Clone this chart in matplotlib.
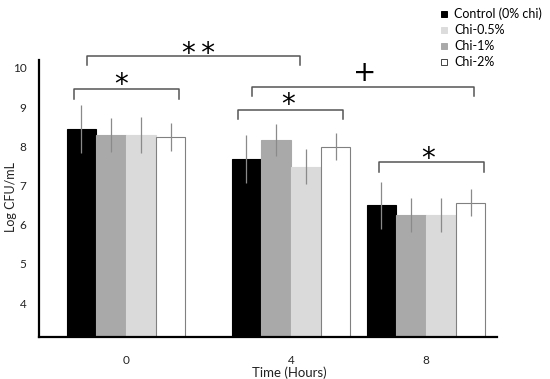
import matplotlib
matplotlib.use('Agg')
import matplotlib.pyplot as plt
from matplotlib.lines import Line2D
import numpy as np

plt.rcParams['font.family'] = ['Lato', 'DejaVu Sans']

# data
times = ['0', '4', '8']
series = ['Control (0% chi)', 'Chi-0.5%', 'Chi-1%', 'Chi-2%']
# bar values in drawn order (black, dark gray, light gray, white)
vals = [
    [8.44, 7.68, 6.49],
    [8.29, 8.16, 6.25],
    [8.29, 7.48, 6.25],
    [8.23, 7.99, 6.56],
]
errs = [
    [0.62, 0.62, 0.60],
    [0.43, 0.42, 0.43],
    [0.45, 0.44, 0.44],
    [0.36, 0.35, 0.35],
]
# significance brackets: (x0, x1, top, leg, label, text_x, text_y)
brackets = [
    (-0.347, 0.353, 9.46, 9.21, '*', -0.03, 9.74),
    (-0.258, 1.160, 10.31, 10.08, '*\u2009*', 0.48, 10.54),
    (0.747, 1.447, 8.93, 8.70, '*', 1.08, 9.23),
    (0.838, 2.320, 9.52, 9.29, '+', 1.593, 9.87),
    (1.687, 2.387, 7.61, 7.35, '*', 2.013, 7.85),
]

# layout
group_pos = np.array([0, 1.1, 2.0])
bar_w = 0.198
bar_colors = ['black', '#a9a9a9', '#dadada', 'white']
edge_colors = ['black', '#a9a9a9', '#dadada', '#808080']
legend_colors = ['black', '#dcdcdc', '#a9a9a9', 'white']

fig = plt.figure(figsize=(5.5, 3.79), dpi=100)
ax = fig.add_axes([0.0709, 0.112, 0.8327, 0.7296])

for i in range(4):
    x = group_pos + (i - 1.5) * bar_w
    ax.bar(x, vals[i], bar_w, bottom=0, color=bar_colors[i],
           edgecolor=edge_colors[i], linewidth=0.8, zorder=2)
    ax.errorbar(x, vals[i], yerr=errs[i], fmt='none', ecolor='#8a8a8a',
                elinewidth=0.9, capsize=0, zorder=3)

ax.set_ylim(3.145, 10.20)
ax.set_xlim(-0.58, 2.473)
ax.set_yticks([4, 5, 6, 7, 8, 9, 10])
ax.set_xticks(group_pos)
ax.set_xticklabels(times)
ax.tick_params(axis='both', length=0, labelsize=8.5, colors='#222222')
ax.tick_params(axis='y', pad=9)
ax.tick_params(axis='x', pad=13)
ax.set_ylabel('Log CFU/mL', fontsize=9, color='#222222', va='center')
ax.yaxis.set_label_coords(-0.062, 0.505)
ax.set_xlabel('Time (Hours)', fontsize=9.5, color='#222222', va='center')
ax.xaxis.set_label_coords(0.546, -0.132)
for s in ['top', 'right']:
    ax.spines[s].set_visible(False)
for s in ['left', 'bottom']:
    ax.spines[s].set_linewidth(1.6)

for x0, x1, top, leg, lab, tx, ty in brackets:
    ax.plot([x0, x0, x1, x1], [leg, top, top, leg], color='#555555',
            lw=1.1, clip_on=False, zorder=4)
    if lab == '+':
        ax.text(tx, ty, lab, fontsize=20, ha='center', va='center',
                family='DejaVu Sans', clip_on=False)
    else:
        ax.text(tx, ty - 0.18, lab, fontsize=20, ha='center', va='center',
                family='DejaVu Sans', clip_on=False)

handles = [Line2D([], [], marker='s', linestyle='none', markersize=5,
                  markerfacecolor=c, markeredgecolor='#444444' if c == 'white' else c,
                  markeredgewidth=0.7)
           for c in legend_colors]
fig.legend(handles, series, loc='upper left', bbox_to_anchor=(0.785, 1.0),
           frameon=False, fontsize=9, handlelength=0.8, handletextpad=0.4,
           labelspacing=0.33, borderaxespad=0.2)

fig.savefig('out.png', dpi=100)
